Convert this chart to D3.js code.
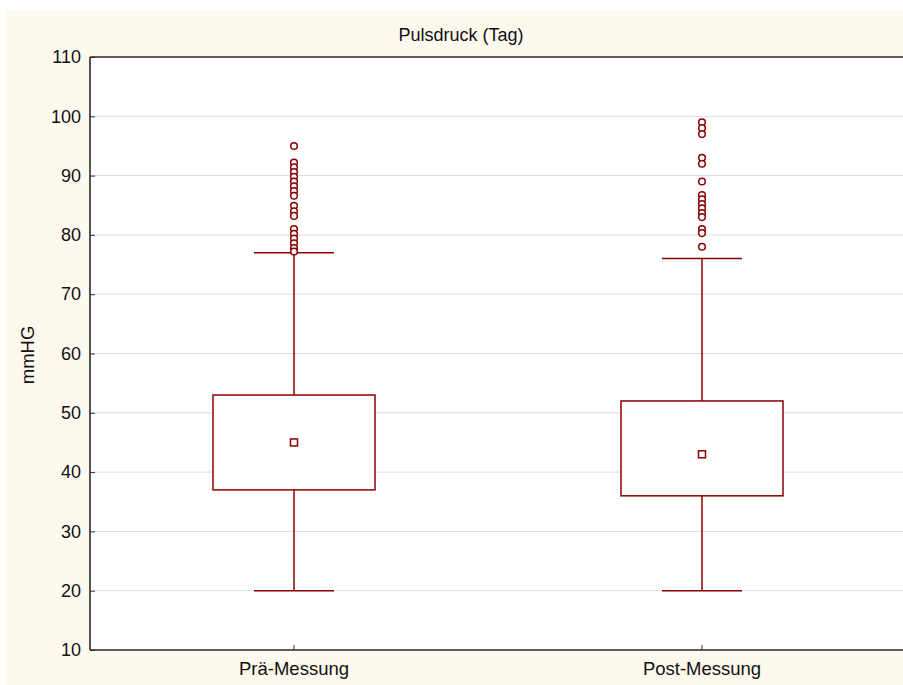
<!DOCTYPE html>
<html>
<head>
<meta charset="utf-8">
<script src="https://cdn.jsdelivr.net/npm/d3@7"></script>
<style>
  html, body { margin: 0; padding: 0; background: #ffffff; }
  svg { display: block; }
  text { font-family: Arial, "Liberation Sans", sans-serif; fill: #111; }
</style>
</head>
<body>
<svg id="chart" width="903" height="685"></svg>
<script>
// ---- data ----
const categories = ["Prä-Messung", "Post-Messung"];
const q1 = [37, 36];
const q3 = [53, 52];
const means = [45, 43];
const whiskerLow = [20, 20];
const whiskerHigh = [77, 76];
const outliersPre = [95.0, 92.2, 91.4, 90.6, 89.8, 89.0, 88.2, 87.4, 86.6, 84.9, 84.0, 83.2, 81.0, 80.2, 79.4, 78.6, 77.8, 77.2];
const outliersPost = [99.0, 98.0, 97.0, 93.0, 92.0, 89.0, 86.7, 86.0, 85.2, 84.5, 83.7, 83.0, 81.0, 80.3, 78.0];
const outliers = [outliersPre, outliersPost];
const yTicks = [10, 20, 30, 40, 50, 60, 70, 80, 90, 100, 110];
const title = "Pulsdruck (Tag)";
const yLabel = "mmHG";

// ---- layout ----
const svg = d3.select("#chart");
const W = 903, H = 685;
const mLeft = 90, mTop = 57, mBottom = 650, mRight = 906;
const red = "#8b0000";
const fontStack = "Arial, 'Liberation Sans', sans-serif";

svg.append("rect").attr("x", 6).attr("y", 10).attr("width", W - 6).attr("height", H - 10)
  .attr("fill", "#fef9ee");
svg.append("rect").attr("x", mLeft).attr("y", mTop).attr("width", mRight - mLeft).attr("height", mBottom - mTop)
  .attr("fill", "#ffffff");

const y = d3.scaleLinear().domain([10, 110]).range([mBottom, mTop]);
const x = d3.scaleBand().domain(categories).range([mLeft, mRight]);

// grid
svg.append("g").selectAll("line").data(yTicks.filter(t => t > 10 && t < 110)).join("line")
  .attr("x1", mLeft).attr("x2", mRight)
  .attr("y1", d => y(d)).attr("y2", d => y(d))
  .attr("stroke", "#dcdcdc").attr("stroke-width", 1);

// axes
const yAxis = d3.axisLeft(y).tickValues(yTicks).tickSize(-5).tickPadding(9).tickFormat(d3.format("d"));
const gy = svg.append("g").attr("transform", `translate(${mLeft},0)`).call(yAxis);
gy.select(".domain").remove();
gy.selectAll(".tick line").attr("stroke", "#333");
gy.selectAll(".tick text").style("font-size", "18px").attr("fill", "#111").style("font-family", fontStack);

const xAxis = d3.axisBottom(x).tickSize(-5).tickPadding(12);
const gx = svg.append("g").attr("transform", `translate(0,${mBottom})`).call(xAxis);
gx.select(".domain").remove();
gx.selectAll(".tick line").attr("stroke", "#333");
gx.selectAll(".tick text").style("font-size", "18.5px").attr("fill", "#111").style("font-family", fontStack);

// frame
const frame = svg.append("g").attr("stroke", "#2a2a2a").attr("stroke-width", 1.6).attr("fill", "none");
frame.append("line").attr("x1", mLeft).attr("x2", mLeft).attr("y1", mTop).attr("y2", mBottom);
frame.append("line").attr("x1", mLeft).attr("x2", mRight).attr("y1", mTop).attr("y2", mTop);
frame.append("line").attr("x1", mLeft).attr("x2", mRight).attr("y1", mBottom).attr("y2", mBottom);

// boxes
const boxHalf = 81, capHalf = 40;
const g = svg.append("g");
categories.forEach((c, i) => {
  const cx = x(c) + x.bandwidth() / 2;
  const gg = g.append("g").attr("stroke", red).attr("stroke-width", 1.5).attr("fill", "none");
  gg.append("line").attr("x1", cx).attr("x2", cx).attr("y1", y(whiskerHigh[i])).attr("y2", y(q3[i]));
  gg.append("line").attr("x1", cx).attr("x2", cx).attr("y1", y(q1[i])).attr("y2", y(whiskerLow[i]));
  gg.append("line").attr("x1", cx - capHalf).attr("x2", cx + capHalf).attr("y1", y(whiskerHigh[i])).attr("y2", y(whiskerHigh[i]));
  gg.append("line").attr("x1", cx - capHalf).attr("x2", cx + capHalf).attr("y1", y(whiskerLow[i])).attr("y2", y(whiskerLow[i]));
  gg.append("rect").attr("x", cx - boxHalf).attr("width", 2 * boxHalf)
    .attr("y", y(q3[i])).attr("height", y(q1[i]) - y(q3[i])).attr("fill", "#fff");
  gg.append("rect").attr("x", cx - 3.5).attr("y", y(means[i]) - 3.5).attr("width", 7).attr("height", 7).attr("fill", "#fff");
  gg.selectAll("circle").data(outliers[i]).join("circle")
    .attr("cx", cx).attr("cy", d => y(d)).attr("r", 3.3).attr("fill", "#fff");
});

// title and labels
svg.append("text").attr("x", 461).attr("y", 41).attr("text-anchor", "middle")
  .style("font-size", "18px").text(title);
svg.append("text").attr("transform", `translate(34,355) rotate(-90)`).attr("text-anchor", "middle")
  .style("font-size", "18.5px").text(yLabel);
</script>
</body>
</html>
